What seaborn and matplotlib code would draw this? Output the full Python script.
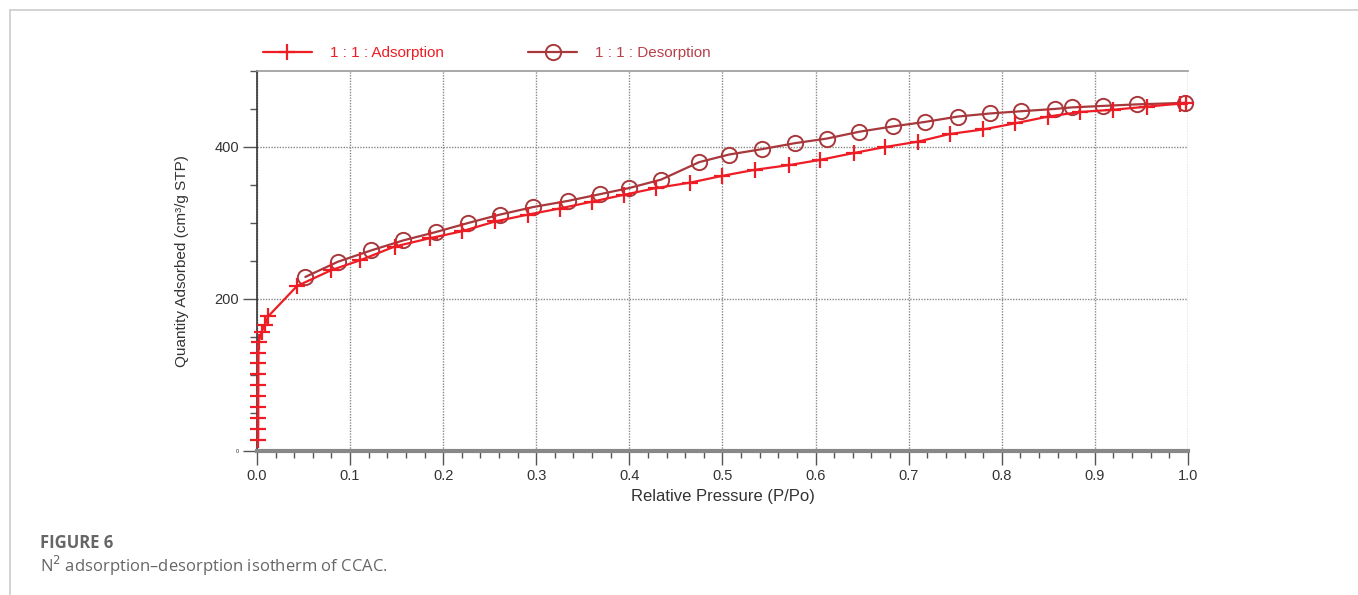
import matplotlib
matplotlib.use("Agg")
import matplotlib.pyplot as plt
from matplotlib.lines import Line2D
from matplotlib.ticker import MultipleLocator
import seaborn as sns
import pandas as pd

# Adsorption branch (P/Po, cm3/g STP)
ads_p = [0.0012, 0.0012, 0.0013, 0.0013, 0.0013, 0.0014, 0.0014, 0.0015, 0.0016, 0.0018,
         0.005, 0.0086, 0.012, 0.043, 0.080, 0.111, 0.148, 0.186, 0.220, 0.256,
         0.291, 0.325, 0.360, 0.394, 0.429, 0.465, 0.500, 0.535, 0.571, 0.605,
         0.641, 0.675, 0.710, 0.744, 0.780, 0.814, 0.850, 0.884, 0.920, 0.956,
         0.991, 0.998]
ads_q = [14, 29, 43, 58, 72, 87, 101, 116, 129, 143,
         157, 166, 177, 217, 238, 251, 269, 280, 289, 302,
         311, 319, 328, 337, 346, 353, 362, 370, 376, 383,
         392, 400, 407, 417, 423, 431, 440, 446, 449, 453,
         457, 458]

# Desorption branch
des_p = [0.997, 0.945, 0.909, 0.875, 0.857, 0.821, 0.787, 0.753, 0.718, 0.683,
         0.647, 0.612, 0.578, 0.542, 0.507, 0.475, 0.434, 0.400, 0.369, 0.334,
         0.297, 0.261, 0.227, 0.192, 0.157, 0.123, 0.087, 0.052]
des_q = [458, 456, 454, 452, 450, 447, 444, 440, 433, 427,
         420, 411, 405, 397, 390, 380, 357, 346, 338, 329,
         321, 311, 300, 288, 277, 264, 249, 229]

ads = pd.DataFrame({"p": ads_p, "q": ads_q})
des = pd.DataFrame({"p": des_p, "q": des_q})

sns.set_style("white")
plt.rcParams["font.family"] = ["Liberation Sans", "DejaVu Sans"]

fig = plt.figure(figsize=(13.58, 5.95), dpi=100)
ax = fig.add_axes([0.1892, 0.242, 0.6856, 0.6388])

red = "#ee1c24"
brown = "#a8383c"

sns.lineplot(data=des, x="p", y="q", ax=ax, sort=False, estimator=None,
             color=brown, lw=1.6, marker="o", markersize=11, mew=1.4,
             mfc="none", mec=brown, label="1 : 1 : Desorption", zorder=3,
             clip_on=False)
sns.lineplot(data=ads, x="p", y="q", ax=ax, sort=False, estimator=None,
             color=red, lw=1.6, marker="+", markersize=12, mew=1.6,
             mec=red, label="1 : 1 : Adsorption", zorder=4, clip_on=False)

ax.set_xlim(0, 1.0)
ax.set_ylim(0, 500)
ax.set_xticks([i / 10 for i in range(11)])
ax.set_xticklabels([f"{i / 10:.1f}" for i in range(11)])
ax.xaxis.set_minor_locator(MultipleLocator(0.02))
ax.set_yticks([0, 200, 400])
ax.yaxis.set_minor_locator(MultipleLocator(50))
ax.tick_params(axis="both", which="major", direction="out", length=10, width=1,
               color="#555555", labelsize=10.5, labelcolor="#333333", pad=3,
               left=True, bottom=True)
ax.tick_params(axis="both", which="minor", direction="out", length=5, width=1,
               color="#555555", left=True, bottom=True)
ax.get_yticklabels()[0].set_fontsize(4)

ax.grid(True, which="major", color="#888888", ls=(0, (1, 1)), lw=1)

ax.spines["top"].set_color("#999999")
ax.spines["top"].set_linewidth(1.2)
ax.spines["right"].set_visible(False)
ax.spines["left"].set_color("#333333")
ax.spines["left"].set_linewidth(1.2)
ax.spines["bottom"].set_color("#888888")
ax.spines["bottom"].set_linewidth(3)

ax.set_xlabel("Relative Pressure (P/Po)", fontsize=12, color="#333333", labelpad=4)
ax.set_ylabel("Quantity Adsorbed (cm³/g STP)", fontsize=11, color="#333333", labelpad=18)

handles, labels = ax.get_legend_handles_labels()
leg = ax.legend(handles[::-1], labels[::-1], loc="lower left",
                bbox_to_anchor=(-0.005, 1.0), ncol=2, frameon=False, fontsize=11,
                handlelength=3.2, columnspacing=5.5, handletextpad=1.2,
                borderaxespad=0.3)
for txt, c in zip(leg.get_texts(), [red, "#b8404a"]):
    txt.set_color(c)

# panel frame and caption
fig.add_artist(Line2D([10 / 1358, 1], [1 - 10 / 595, 1 - 10 / 595], color="#cccccc", lw=1.2))
fig.add_artist(Line2D([10 / 1358, 10 / 1358], [0, 1 - 10 / 595], color="#cccccc", lw=1.2))
fig.text(40 / 1358, 1 - 543 / 595, "FIGURE 6", fontsize=12, fontweight="bold",
         color="#666666", va="center", family=["Open Sans", "DejaVu Sans"])
fig.text(40 / 1358, 1 - 566 / 595, "N$^2$ adsorption\u2013desorption isotherm of CCAC.",
         fontsize=12, color="#666666", va="center", family=["Open Sans", "DejaVu Sans"])

fig.savefig("out.png", dpi=100)
